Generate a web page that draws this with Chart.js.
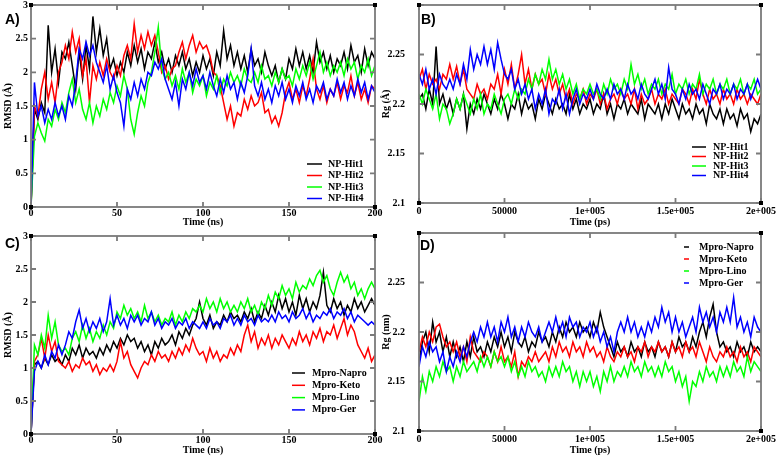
<!DOCTYPE html>
<html>
<head>
<meta charset="utf-8">
<script src="https://cdn.jsdelivr.net/npm/chart.js@4.4.0/dist/chart.umd.min.js"></script>
<style>
  body { margin: 0; background: #fff; width: 779px; height: 456px; position: relative; overflow: hidden; }
  canvas { position: absolute; }
  .lbl { position: absolute; font: bold 14px "Liberation Sans", Arial, sans-serif; color: #000; }
</style>
</head>
<body>
<canvas id="cA" width="390" height="228" style="left:0;top:0;width:390px;height:228px"></canvas>
<canvas id="cB" width="401" height="228" style="left:378px;top:0;width:401px;height:228px"></canvas>
<canvas id="cC" width="390" height="228" style="left:0;top:228px;width:390px;height:228px"></canvas>
<canvas id="cD" width="401" height="228" style="left:378px;top:228px;width:401px;height:228px"></canvas>
<div class="lbl" style="left:5px;top:11px">A)</div>
<div class="lbl" style="left:421px;top:11px">B)</div>
<div class="lbl" style="left:5px;top:235px">C)</div>
<div class="lbl" style="left:420px;top:237px">D)</div>
<script>
// ---- data ----
const namesNP = ["NP-Hit1", "NP-Hit2", "NP-Hit3", "NP-Hit4"];
const namesMpro = ["Mpro-Napro", "Mpro-Keto", "Mpro-Lino", "Mpro-Ger"];
const colors = ["#000000", "#ff0000", "#00ff00", "#0000ff"];
const xTicksNs = ["0", "50", "100", "150", "200"];
const xTicksPs = ["0", "50000", "1e+005", "1.5e+005", "2e+005"];
const yTicksRmsd = ["0", "0.5", "1", "1.5", "2", "2.5", "3"];
const yTicksRg = ["2.1", "2.15", "2.2", "2.25", ""];

// A) RMSD (Å) vs time (ns), NP hits
const rmsdHit1 = [0, 1.45, 1.3, 1.55, 1.4, 2.7, 2.0, 2.35, 1.85, 2.3,
  2.2, 2.45, 2.1, 1.75, 2.3, 1.9, 2.4, 2.05, 2.83, 2.3,
  2.65, 2.25, 2.5, 2.05, 2.2, 1.95, 2.15, 2.0, 2.3, 2.1,
  2.4, 2.15, 2.35, 2.05, 2.3, 2.2, 2.45, 2.15, 2.3, 2.05,
  2.2, 2.0, 2.25, 2.1, 2.3, 2.05, 2.2, 1.95, 2.15, 2.0,
  2.25, 2.05, 2.2, 1.95, 2.3, 2.1, 2.62, 2.2, 2.4, 2.1,
  2.3, 2.05, 2.25, 2.0, 2.35, 2.1, 2.2, 2.0, 2.3, 2.1,
  1.95, 2.1, 1.85, 2.05, 1.9, 2.2, 2.05, 2.35, 2.1, 2.3,
  2.05, 2.25, 2.0, 2.45, 2.15, 2.3, 2.05, 2.25, 2.0, 2.2,
  2.1, 2.3, 2.05, 2.4, 2.15, 2.25, 2.0, 2.35, 2.1, 2.3, 2.2];
const rmsdHit2 = [0, 1.5, 1.35, 1.75, 2.0, 1.6, 1.85, 1.55, 2.0, 2.15,
  2.4, 2.2, 2.6, 2.3, 2.5, 1.95, 2.2, 1.55, 2.1, 1.9,
  2.15, 1.95, 2.2, 2.0, 1.9, 2.1, 1.95, 2.25, 2.4, 2.2,
  2.72, 2.3, 2.55, 2.35, 2.6, 2.4, 2.55, 2.3, 2.0, 2.1,
  1.9, 2.05, 2.1, 2.3, 2.45, 2.2, 2.4, 2.55, 2.3, 2.45,
  2.35, 2.4, 2.25, 2.0, 1.95, 1.8, 1.55, 1.3, 1.5, 1.2,
  1.4, 1.35, 1.6, 1.45, 1.65, 1.5, 1.55, 1.7, 1.4, 1.45,
  1.25, 1.35, 1.2, 1.4, 1.7, 1.85, 1.6, 1.75, 1.55, 1.8,
  1.65, 1.9, 2.2, 1.75, 1.6, 1.8, 1.55, 1.75, 1.65, 1.85,
  1.6, 1.8, 1.7, 1.95, 1.65, 1.85, 1.6, 1.75, 1.55, 1.8, 1.75];
const rmsdHit3 = [0, 1.05, 1.25, 1.1, 0.98, 1.3, 1.2, 1.45, 1.3, 1.55,
  1.4, 1.7, 1.9, 1.55, 1.75, 1.45, 1.3, 1.55, 1.25, 1.5,
  1.35, 1.6, 1.45, 1.7, 1.55, 1.8, 1.65, 1.95, 1.75, 1.3,
  1.08, 1.4, 1.65, 1.5, 1.85, 2.0, 2.3, 2.67, 2.05, 1.9,
  2.0, 1.8, 1.95, 1.75, 2.05, 1.85, 2.0, 1.7, 1.9, 1.8,
  1.95, 1.65, 1.85, 1.75, 1.95, 1.7, 1.9, 1.8, 2.0, 1.85,
  1.95, 1.8, 2.05, 1.9, 1.85, 2.0, 1.85, 2.1, 1.9, 1.95,
  1.8, 2.0, 1.85, 2.05, 1.9, 1.95, 1.8, 2.05, 1.9, 2.1,
  1.95, 2.15, 1.9, 2.1, 2.3, 2.0, 2.15, 1.95, 2.1, 2.0,
  2.15, 1.95, 2.2, 2.05, 2.15, 1.9, 2.1, 2.0, 2.2, 1.95, 2.1];
const rmsdHit4 = [0, 1.85, 1.35, 1.5, 1.25, 1.45, 1.3, 1.55, 1.35, 1.5,
  1.3, 1.65, 1.5, 1.85, 2.35, 2.2, 2.45, 2.25, 2.4, 2.15,
  2.0, 1.85, 2.1, 1.75, 1.95, 1.7, 1.55, 1.2, 1.75, 1.6,
  1.85, 1.65, 1.9, 1.75, 2.0, 1.95, 2.15, 2.05, 2.2, 1.9,
  1.75, 1.6, 1.85, 1.5, 1.9, 1.75, 2.0, 1.8, 2.05, 1.85,
  1.95, 1.75, 2.0, 1.8, 1.65, 1.9, 1.7, 1.95, 1.75, 1.85,
  1.6, 1.85, 1.7, 1.95, 2.35, 1.8, 1.65, 1.85, 1.6, 1.75,
  1.55, 1.8, 1.65, 1.85, 1.6, 1.75, 1.55, 1.8, 1.65, 1.85,
  1.6, 1.75, 1.55, 1.8, 1.7, 1.85, 1.6, 1.75, 1.65, 1.9,
  1.7, 1.85, 1.6, 1.8, 1.65, 1.9, 1.7, 1.85, 1.6, 1.8, 1.7];

// B) Rg (Å) vs time (ps), NP hits
const rgHit1 = [2.205, 2.21, 2.195, 2.215, 2.2, 2.258, 2.2, 2.21, 2.195, 2.205,
  2.19, 2.205, 2.195, 2.21, 2.175, 2.2, 2.19, 2.205, 2.195, 2.21,
  2.2, 2.19, 2.205, 2.195, 2.21, 2.2, 2.185, 2.2, 2.195, 2.21,
  2.19, 2.205, 2.195, 2.2, 2.185, 2.205, 2.195, 2.21, 2.2, 2.19,
  2.205, 2.195, 2.2, 2.19, 2.21, 2.195, 2.205, 2.19, 2.2, 2.195,
  2.205, 2.19, 2.2, 2.195, 2.21, 2.19, 2.2, 2.185, 2.2, 2.195,
  2.205, 2.19, 2.2, 2.195, 2.19, 2.205, 2.185, 2.2, 2.195, 2.19,
  2.2, 2.185, 2.2, 2.19, 2.205, 2.195, 2.185, 2.2, 2.19, 2.195,
  2.185, 2.2, 2.19, 2.195, 2.18, 2.2, 2.19, 2.185, 2.195, 2.18,
  2.195, 2.185, 2.19, 2.178, 2.195, 2.185, 2.19, 2.172, 2.185, 2.18, 2.19];
const rgHit2 = [2.225, 2.235, 2.215, 2.23, 2.22, 2.225, 2.215, 2.23, 2.225, 2.24,
  2.225, 2.238, 2.22, 2.235, 2.215, 2.21, 2.205, 2.22, 2.21, 2.215,
  2.205, 2.22, 2.215, 2.23, 2.21, 2.235, 2.22, 2.24, 2.215, 2.23,
  2.25, 2.22, 2.235, 2.215, 2.23, 2.22, 2.225, 2.21, 2.23, 2.215,
  2.225, 2.21, 2.22, 2.205, 2.215, 2.2, 2.21, 2.205, 2.215, 2.2,
  2.21, 2.205, 2.215, 2.2, 2.21, 2.195, 2.205, 2.21, 2.2, 2.215,
  2.205, 2.21, 2.2, 2.215, 2.195, 2.21, 2.2, 2.205, 2.215, 2.2,
  2.21, 2.205, 2.215, 2.2, 2.21, 2.205, 2.2, 2.215, 2.21, 2.2,
  2.215, 2.205, 2.225, 2.21, 2.2, 2.215, 2.205, 2.21, 2.2, 2.215,
  2.205, 2.21, 2.2, 2.215, 2.205, 2.21, 2.2, 2.21, 2.205, 2.2, 2.21];
const rgHit3 = [2.21, 2.2, 2.215, 2.205, 2.195, 2.21, 2.185, 2.2, 2.195, 2.18,
  2.19, 2.205, 2.195, 2.21, 2.2, 2.19, 2.205, 2.195, 2.21, 2.19,
  2.2, 2.195, 2.21, 2.2, 2.19, 2.205, 2.21, 2.2, 2.215, 2.205,
  2.215, 2.21, 2.225, 2.215, 2.23, 2.22, 2.235, 2.225, 2.245, 2.225,
  2.235, 2.22, 2.23, 2.215, 2.225, 2.21, 2.22, 2.205, 2.215, 2.21,
  2.22, 2.21, 2.215, 2.205, 2.22, 2.21, 2.225, 2.215, 2.22, 2.21,
  2.225, 2.215, 2.24, 2.22, 2.23, 2.215, 2.225, 2.21, 2.22, 2.215,
  2.225, 2.21, 2.22, 2.215, 2.23, 2.21, 2.22, 2.215, 2.225, 2.21,
  2.22, 2.215, 2.23, 2.21, 2.22, 2.215, 2.225, 2.21, 2.22, 2.215,
  2.225, 2.21, 2.22, 2.215, 2.225, 2.21, 2.22, 2.215, 2.225, 2.21, 2.215];
const rgHit4 = [2.23, 2.22, 2.235, 2.215, 2.225, 2.21, 2.23, 2.22, 2.215, 2.225,
  2.215, 2.23, 2.22, 2.24, 2.225, 2.255, 2.235, 2.25, 2.24, 2.258,
  2.24, 2.255, 2.235, 2.262, 2.245, 2.23, 2.225, 2.235, 2.215, 2.225,
  2.21, 2.22, 2.205, 2.215, 2.195, 2.21, 2.2, 2.215, 2.19, 2.205,
  2.2, 2.215, 2.195, 2.21, 2.19, 2.205, 2.215, 2.2, 2.21, 2.205,
  2.215, 2.205, 2.22, 2.21, 2.205, 2.215, 2.205, 2.22, 2.21, 2.215,
  2.205, 2.22, 2.21, 2.215, 2.205, 2.22, 2.21, 2.205, 2.215, 2.225,
  2.21, 2.22, 2.205, 2.237, 2.215, 2.21, 2.2, 2.215, 2.205, 2.22,
  2.21, 2.215, 2.205, 2.22, 2.21, 2.2, 2.215, 2.21, 2.22, 2.205,
  2.215, 2.21, 2.22, 2.205, 2.215, 2.21, 2.22, 2.205, 2.215, 2.225, 2.215];

// C) RMSD (Å) vs time (ns), Mpro complexes
const rmsdNapro = [0, 1.05, 1.1, 1.0, 1.15, 1.05, 1.2, 1.1, 1.15, 1.05,
  1.2, 1.1, 1.3, 1.2, 1.35, 1.15, 1.3, 1.2, 1.25, 1.15,
  1.3, 1.2, 1.35, 1.25, 1.4, 1.3, 1.45, 1.35, 1.5, 1.4,
  1.45, 1.3, 1.4, 1.25, 1.35, 1.2, 1.4, 1.3, 1.45, 1.35,
  1.4, 1.5, 1.35, 1.55, 1.45, 1.6, 1.5, 1.65, 1.75, 2.0,
  1.75, 1.65, 1.8, 1.6, 1.7, 1.65, 1.8, 1.7, 1.85, 1.75,
  1.8, 1.7, 1.85, 1.75, 1.9, 1.7, 1.85, 1.75, 1.95, 1.8,
  2.0, 1.85, 2.1, 1.9, 2.05, 1.85, 2.0, 1.8, 2.1, 1.9,
  2.05, 1.85, 2.0, 1.9, 2.1, 2.45, 1.95, 1.85, 2.05, 1.9,
  2.0, 1.8, 1.95, 1.85, 2.05, 1.9, 2.0, 1.85, 1.95, 2.05, 1.95];
const rmsdKeto = [0, 1.1, 1.2, 1.45, 1.15, 1.5, 1.25, 1.4, 1.1, 1.05,
  1.0, 1.1, 0.95, 1.05, 1.0, 1.15, 1.05, 1.1, 0.95, 1.05,
  0.9, 1.0, 0.95, 1.05, 0.95, 1.1, 1.4, 1.15, 1.25, 1.05,
  0.95, 0.85, 1.0, 1.1, 1.05, 1.2, 1.1, 1.25, 1.15, 1.2,
  1.1, 1.25, 1.15, 1.3, 1.2, 1.35, 1.25, 1.45, 1.3, 1.2,
  1.25, 1.1, 1.3, 1.15, 1.25, 1.1, 1.2, 1.15, 1.3, 1.2,
  1.35, 1.25, 1.5, 1.65, 1.4, 1.55, 1.3, 1.45, 1.35, 1.5,
  1.3, 1.45, 1.35, 1.5, 1.4, 1.3, 1.45, 1.35, 1.55, 1.4,
  1.5, 1.35, 1.55, 1.45, 1.6, 1.4, 1.55, 1.5, 1.65, 1.45,
  1.6, 1.75, 1.5, 1.65, 1.55, 1.35, 1.25, 1.15, 1.3, 1.1, 1.2];
const rmsdLino = [0, 1.35, 1.2, 1.5, 1.3, 1.8, 1.45, 1.7, 1.35, 1.25,
  1.3, 1.2, 1.45, 1.55, 1.4, 1.65, 1.45, 1.6, 1.4, 1.55,
  1.45, 1.65, 1.5, 1.7, 1.6, 1.85, 1.75, 1.95, 1.8, 1.9,
  1.75, 1.85, 1.7, 1.95, 1.75, 1.85, 1.7, 1.8, 1.65, 1.75,
  1.7, 1.85, 1.65, 1.8, 1.7, 1.85, 1.75, 1.9, 1.85, 1.95,
  1.85, 2.05, 1.9, 2.0, 1.85, 2.05, 1.9, 2.0, 1.85, 1.95,
  1.85, 2.0, 1.9, 2.05, 1.85, 1.95, 1.8, 2.0, 1.9, 2.1,
  1.95, 2.15, 2.05, 2.25, 2.1, 2.2, 2.05, 2.3, 2.15, 2.25,
  2.2, 2.35, 2.25, 2.4, 2.48, 2.3, 2.4, 2.2, 2.1, 2.3,
  2.45, 2.3, 2.4, 2.2, 2.3, 2.1, 2.2, 2.05, 2.2, 2.3, 2.2];
const rmsdGer = [0, 0.95, 1.1, 1.0, 1.2, 1.05, 1.25, 1.15, 1.35, 1.2,
  1.35, 1.55, 1.45, 1.7, 1.88, 1.6, 1.75, 1.55, 1.7, 1.6,
  1.75, 1.55, 1.7, 2.05, 1.65, 1.8, 1.65, 1.75, 1.6, 1.8,
  1.7, 1.8, 1.65, 1.75, 1.7, 1.85, 1.65, 1.75, 1.6, 1.7,
  1.65, 1.75, 1.6, 1.7, 1.65, 1.75, 1.6, 1.7, 1.65, 1.6,
  1.7, 1.6, 1.75, 1.65, 1.7, 1.6, 1.75, 1.7, 1.8, 1.65,
  1.75, 1.65, 1.8, 1.7, 1.75, 1.65, 1.8, 1.7, 1.75, 1.7,
  1.8, 1.7, 1.85, 1.75, 1.8, 1.7, 1.85, 1.75, 1.8, 1.9,
  1.75, 1.85, 1.7, 1.8, 1.75, 1.85, 1.8, 1.9, 1.75, 1.85,
  1.8, 1.9, 1.75, 1.85, 1.7, 1.8, 1.75, 1.7, 1.65, 1.7, 1.65];

// D) Rg (nm) vs time (ps), Mpro complexes
const rgNapro = [2.17, 2.19, 2.2, 2.18, 2.21, 2.19, 2.2, 2.18, 2.195, 2.175,
  2.19, 2.175, 2.185, 2.17, 2.19, 2.175, 2.195, 2.18, 2.185, 2.175,
  2.19, 2.18, 2.195, 2.185, 2.2, 2.185, 2.195, 2.18, 2.2, 2.19,
  2.185, 2.195, 2.18, 2.19, 2.185, 2.2, 2.19, 2.195, 2.185, 2.2,
  2.19, 2.205, 2.195, 2.21, 2.2, 2.205, 2.195, 2.21, 2.2, 2.205,
  2.195, 2.21, 2.2, 2.22, 2.205, 2.195, 2.185, 2.175, 2.19, 2.18,
  2.185, 2.175, 2.19, 2.18, 2.185, 2.175, 2.19, 2.18, 2.185, 2.175,
  2.19, 2.18, 2.185, 2.175, 2.19, 2.18, 2.195, 2.185, 2.19, 2.18,
  2.195, 2.185, 2.2, 2.21, 2.195, 2.215, 2.228, 2.2, 2.185, 2.19,
  2.18, 2.185, 2.175, 2.19, 2.18, 2.185, 2.175, 2.19, 2.18, 2.185, 2.18];
const rgKeto = [2.18, 2.195, 2.185, 2.2, 2.19, 2.205, 2.208, 2.195, 2.185, 2.19,
  2.18, 2.19, 2.175, 2.185, 2.17, 2.195, 2.18, 2.175, 2.17, 2.18,
  2.175, 2.165, 2.18, 2.17, 2.185, 2.17, 2.175, 2.165, 2.18, 2.155,
  2.17, 2.165, 2.175, 2.17, 2.18, 2.17, 2.175, 2.18, 2.17, 2.185,
  2.175, 2.19, 2.18, 2.185, 2.175, 2.19, 2.18, 2.185, 2.175, 2.19,
  2.18, 2.185, 2.175, 2.18, 2.17, 2.185, 2.175, 2.17, 2.18, 2.175,
  2.185, 2.175, 2.18, 2.17, 2.185, 2.18, 2.19, 2.175, 2.185, 2.18,
  2.19, 2.18, 2.185, 2.175, 2.19, 2.18, 2.185, 2.175, 2.19, 2.18,
  2.185, 2.175, 2.19, 2.18, 2.17, 2.185, 2.175, 2.17, 2.18, 2.175,
  2.185, 2.175, 2.18, 2.17, 2.185, 2.175, 2.18, 2.17, 2.185, 2.18, 2.175];
const rgLino = [2.13, 2.155, 2.14, 2.16, 2.15, 2.165, 2.155, 2.17, 2.16, 2.165,
  2.15, 2.165, 2.155, 2.17, 2.16, 2.165, 2.17, 2.16, 2.175, 2.165,
  2.175, 2.165, 2.18, 2.17, 2.175, 2.165, 2.175, 2.16, 2.17, 2.155,
  2.165, 2.155, 2.17, 2.16, 2.165, 2.155, 2.16, 2.15, 2.165, 2.155,
  2.165, 2.155, 2.17, 2.16, 2.165, 2.15, 2.16, 2.145, 2.16, 2.15,
  2.16, 2.145, 2.155, 2.14, 2.16, 2.15, 2.165, 2.15, 2.16, 2.155,
  2.165, 2.155, 2.17, 2.16, 2.165, 2.155, 2.17, 2.16, 2.165, 2.155,
  2.165, 2.155, 2.17, 2.16, 2.165, 2.15, 2.16, 2.145, 2.155, 2.13,
  2.15, 2.145, 2.16, 2.15, 2.165, 2.155, 2.16, 2.15, 2.165, 2.155,
  2.165, 2.155, 2.17, 2.16, 2.165, 2.155, 2.175, 2.16, 2.17, 2.165, 2.16];
const rgGer = [2.165, 2.185, 2.175, 2.19, 2.18, 2.185, 2.17, 2.18, 2.16, 2.175,
  2.165, 2.18, 2.17, 2.185, 2.175, 2.19, 2.2, 2.19, 2.205, 2.195,
  2.21, 2.195, 2.205, 2.19, 2.21, 2.2, 2.215, 2.195, 2.205, 2.19,
  2.205, 2.195, 2.21, 2.2, 2.195, 2.205, 2.19, 2.2, 2.21, 2.2,
  2.215, 2.2, 2.21, 2.195, 2.215, 2.205, 2.21, 2.195, 2.205, 2.2,
  2.21, 2.195, 2.205, 2.19, 2.2, 2.185, 2.195, 2.18, 2.2, 2.21,
  2.2, 2.215, 2.2, 2.21, 2.195, 2.205, 2.195, 2.21, 2.2, 2.215,
  2.205, 2.225, 2.21, 2.22, 2.2, 2.215, 2.2, 2.21, 2.195, 2.205,
  2.215, 2.2, 2.225, 2.21, 2.22, 2.205, 2.215, 2.2, 2.22, 2.21,
  2.225, 2.21, 2.235, 2.205, 2.215, 2.2, 2.21, 2.195, 2.215, 2.205, 2.2];

// ---- drawing ----
Chart.defaults.font.family = '"Liberation Serif", "Times New Roman", serif';
Chart.defaults.font.weight = "bold";
Chart.defaults.font.size = 10;
Chart.defaults.color = "#000";

// grace-style box: grey frame, inward ticks on all sides, black corner squares
const framePlugin = {
  id: "frame",
  afterDraw(chart) {
    const { ctx, chartArea: a, scales } = chart;
    ctx.save();
    ctx.strokeStyle = "#7a7a7a";
    ctx.lineWidth = 1.8;
    ctx.strokeRect(a.left, a.top, a.right - a.left, a.bottom - a.top);
    ctx.beginPath();
    scales.x.ticks.forEach((t) => {
      const px = scales.x.getPixelForValue(t.value);
      ctx.moveTo(px, a.bottom); ctx.lineTo(px, a.bottom - 5);
      ctx.moveTo(px, a.top); ctx.lineTo(px, a.top + 5);
    });
    scales.y.ticks.forEach((t) => {
      const py = scales.y.getPixelForValue(t.value);
      ctx.moveTo(a.left, py); ctx.lineTo(a.left + 5, py);
      ctx.moveTo(a.right, py); ctx.lineTo(a.right - 5, py);
    });
    ctx.stroke();
    ctx.fillStyle = "#000";
    [[a.left, a.top], [a.right, a.top], [a.left, a.bottom], [a.right, a.bottom]].forEach(([x, y]) => {
      ctx.fillRect(x - 2, y - 2, 4, 4);
    });
    ctx.restore();
  },
};

// legend drawn inside the plot box
const boxLegend = {
  id: "boxLegend",
  afterDraw(chart, args, opts) {
    const ctx = chart.ctx;
    ctx.save();
    ctx.font = 'bold 10px "Liberation Serif", "Times New Roman", serif';
    ctx.textBaseline = "middle";
    ctx.lineWidth = 1.5;
    chart.data.datasets.forEach((ds, i) => {
      const y = opts.y + i * opts.dy;
      ctx.strokeStyle = ds.borderColor;
      ctx.beginPath();
      ctx.moveTo(opts.x, y);
      ctx.lineTo(opts.x + opts.len, y);
      ctx.stroke();
      ctx.fillStyle = "#000";
      ctx.fillText(ds.label, opts.x + opts.len + opts.gap, y);
    });
    ctx.restore();
  },
};

function makeSets(names, series, xMax) {
  return series.map((vals, i) => ({
    label: names[i],
    data: vals.map((v, k) => ({ x: (k * xMax) / (vals.length - 1), y: v })),
    borderColor: colors[i],
    borderWidth: 1.5,
    pointRadius: 0,
    tension: 0,
    order: 4 - i, // blue on top, like the original
  }));
}

function panel(id, p) {
  return new Chart(document.getElementById(id), {
    type: "line",
    data: { datasets: makeSets(p.names, p.series, p.xMax) },
    options: {
      responsive: false,
      animation: false,
      parsing: false,
      layout: { autoPadding: false, padding: p.pad },
      scales: {
        x: {
          type: "linear",
          min: 0,
          max: p.xMax,
          grid: { display: false, drawTicks: false },
          border: { display: false },
          ticks: {
            stepSize: p.xMax / 4,
            padding: p.xPad,
            maxRotation: 0,
            autoSkip: false,
            callback: (v, i) => p.xLabels[i],
          },
          title: { display: true, text: p.xTitle, padding: 0 },
          afterFit(s) {
            s.height = p.xH;
            s.paddingLeft = 0;
            s.paddingRight = 0;
          },
        },
        y: {
          min: p.yMin,
          max: p.yMax,
          grid: { display: false, drawTicks: false },
          border: { display: false },
          ticks: { stepSize: p.yStep, padding: p.yPad, callback: (v, i) => p.yLabels[i] },
          title: { display: true, text: p.yTitle, padding: { top: 2, bottom: 0 } },
          afterFit(s) {
            s.width = p.yW;
            s.paddingTop = 0;
            s.paddingBottom = 0;
          },
        },
      },
      plugins: {
        legend: { display: false },
        tooltip: { enabled: false },
        boxLegend: p.legend,
      },
    },
    plugins: [framePlugin, boxLegend],
  });
}

panel("cA", {
  names: namesNP, series: [rmsdHit1, rmsdHit2, rmsdHit3, rmsdHit4], xMax: 200,
  xLabels: xTicksNs, yLabels: yTicksRmsd,
  pad: { left: 0, top: 5, right: 15, bottom: 0 }, xH: 21, xPad: 0, yW: 31, yPad: 3,
  yMin: 0, yMax: 3, yStep: 0.5, xTitle: "Time (ns)", yTitle: "RMSD (Å)",
  legend: { x: 307, y: 164, dy: 11.5, len: 15, gap: 6 },
});
panel("cB", {
  names: namesNP, series: [rgHit1, rgHit2, rgHit3, rgHit4], xMax: 200000,
  xLabels: xTicksPs, yLabels: yTicksRg,
  pad: { left: 0, top: 5, right: 18, bottom: 0 }, xH: 25, xPad: 2, yW: 41, yPad: 14,
  yMin: 2.1, yMax: 2.3, yStep: 0.05, xTitle: "Time (ps)", yTitle: "Rg (Å)",
  legend: { x: 314, y: 147, dy: 9.5, len: 14, gap: 7 },
});
panel("cC", {
  names: namesMpro, series: [rmsdNapro, rmsdKeto, rmsdLino, rmsdGer], xMax: 200,
  xLabels: xTicksNs, yLabels: yTicksRmsd,
  pad: { left: 0, top: 8, right: 15, bottom: 0 }, xH: 22, xPad: 0, yW: 31, yPad: 3,
  yMin: 0, yMax: 3, yStep: 0.5, xTitle: "Time (ns)", yTitle: "RMSD (Å)",
  legend: { x: 292, y: 145, dy: 12.3, len: 13, gap: 7 },
});
panel("cD", {
  names: namesMpro, series: [rgNapro, rgKeto, rgLino, rgGer], xMax: 200000,
  xLabels: xTicksPs, yLabels: yTicksRg,
  pad: { left: 0, top: 5, right: 18, bottom: 0 }, xH: 25, xPad: 2, yW: 41, yPad: 14,
  yMin: 2.1, yMax: 2.3, yStep: 0.05, xTitle: "Time (ps)", yTitle: "Rg (nm)",
  legend: { x: 306, y: 19, dy: 12, len: 5, gap: 10 },
});
</script>
</body>
</html>
